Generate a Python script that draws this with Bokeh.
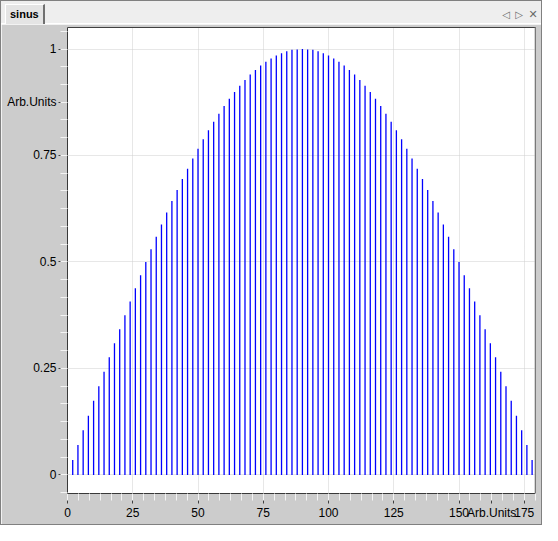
from bokeh.plotting import figure
from bokeh.layouts import column
from bokeh.models import ColumnDataSource, Range1d, FixedTicker, Span, Div
from bokeh.embed import file_html
from bokeh.resources import INLINE

# ---- data ----
xs = [2, 4, 6, 8, 10, 12, 14, 16, 18, 20, 22, 24, 26, 28, 30, 32, 34, 36, 38, 40,
      42, 44, 46, 48, 50, 52, 54, 56, 58, 60, 62, 64, 66, 68, 70, 72, 74, 76, 78, 80,
      82, 84, 86, 88, 90, 92, 94, 96, 98, 100, 102, 104, 106, 108, 110, 112, 114, 116,
      118, 120, 122, 124, 126, 128, 130, 132, 134, 136, 138, 140, 142, 144, 146, 148,
      150, 152, 154, 156, 158, 160, 162, 164, 166, 168, 170, 172, 174, 176, 178]
ys = [0.035, 0.070, 0.105, 0.139, 0.174, 0.208, 0.242, 0.276, 0.309, 0.342,
      0.375, 0.407, 0.438, 0.469, 0.500, 0.530, 0.559, 0.588, 0.616, 0.643,
      0.669, 0.695, 0.719, 0.743, 0.766, 0.788, 0.809, 0.829, 0.848, 0.866,
      0.883, 0.899, 0.914, 0.927, 0.940, 0.951, 0.961, 0.970, 0.978, 0.985,
      0.990, 0.995, 0.998, 0.999, 1.000,
      0.999, 0.998, 0.995, 0.990, 0.985, 0.978, 0.970, 0.961, 0.951, 0.940,
      0.927, 0.914, 0.899, 0.883, 0.866, 0.848, 0.829, 0.809, 0.788, 0.766,
      0.743, 0.719, 0.695, 0.669, 0.643, 0.616, 0.588, 0.559, 0.530, 0.500,
      0.469, 0.438, 0.407, 0.375, 0.342, 0.309, 0.276, 0.242, 0.208, 0.174,
      0.139, 0.105, 0.070, 0.035]

x_major = [0, 25, 50, 75, 100, 125, 150, 175]
y_major = [0, 0.25, 0.5, 0.75, 1]
x_label_pos = 162.5
y_label_pos = 0.875
axis_title = "Arb.Units"
tab_title = "sinus"
tab_icons = ["\u25c1", "\u25b7", "\u2715"]

FONT = "Liberation Sans"
W = 540

# ---- tab bar ----
icon_html = ""
for cx, ic, fs in zip([505, 518, 532], tab_icons, [10, 10, 11]):
    icon_html += (f'<div style="position:absolute;left:{cx - 6}px;top:8px;width:12px;height:12px;'
                  f'line-height:12px;text-align:center;font-family:\'DejaVu Sans\';'
                  f'font-size:{fs}px;color:#6a6a6a;">{ic}</div>')
tab_html = (
    f'<div style="position:relative;width:{W}px;height:23px;background:#eeeeee;overflow:hidden;margin:0;">'
    f'<div style="position:absolute;left:0;top:22px;width:{W}px;height:1px;background:#ffffff;"></div>'
    f'<div style="position:absolute;left:4px;top:3px;width:40px;height:20px;box-sizing:border-box;'
    f'background:#e4e4e4;border-left:1px solid #ffffff;border-top:1px solid #ffffff;'
    f'border-right:2px solid #707070;padding-left:4px;font-family:\'{FONT}\';font-weight:bold;'
    f'font-size:11px;line-height:19px;color:black;">{tab_title}</div>'
    + icon_html +
    '</div>'
)
tab = Div(text=tab_html, width=W, height=23, margin=(0, 0, 0, 0))

# ---- main plot ----
p = figure(width=W, height=500,
           x_range=Range1d(0, 179.3), y_range=Range1d(-0.0437, 1.0505),
           output_backend="svg", toolbar_location=None,
           min_border_left=66, min_border_right=6,
           min_border_top=3, min_border_bottom=31)
p.background_fill_color = "white"
p.border_fill_color = "#cccccc"
p.outline_line_color = "#404040"

src = ColumnDataSource(dict(x=xs, y=ys))
p.segment(x0="x", y0=0, x1="x", y1="y", source=src, line_color="#0000ff", line_width=1.3)

x_minor = [k * 25 / 6 for k in range(0, 44)]
y_minor = [k / 24 for k in range(-1, 26)]
p.xaxis.ticker = FixedTicker(ticks=x_major + [x_label_pos], minor_ticks=x_minor)
p.yaxis.ticker = FixedTicker(ticks=y_major + [y_label_pos], minor_ticks=y_minor)
p.xaxis.major_label_overrides = {0: "0", 25: "25", 50: "50", 75: "75", 100: "100",
                                 125: "125", 150: "150", 175: "175", x_label_pos: axis_title}
p.yaxis.major_label_overrides = {0: "0", 0.25: "0.25", 0.5: "0.5", 0.75: "0.75", 1: "1",
                                 y_label_pos: axis_title}

for ax in (p.xaxis[0], p.yaxis[0]):
    ax.axis_line_color = "#333333"
    ax.axis_line_dash = "1 1"
    ax.major_tick_line_color = "#404040"
    ax.minor_tick_line_color = "#f4f4f4"
    ax.major_tick_in = 0
    ax.minor_tick_in = 0
    ax.major_label_text_font = FONT
    ax.major_label_text_font_size = "12px"
    ax.major_label_text_color = "black"
p.yaxis.major_tick_out = 9
p.yaxis.minor_tick_out = 7
p.yaxis.major_label_standoff = 2
p.xaxis.major_tick_out = 10
p.xaxis.minor_tick_out = 7
p.xaxis.major_label_standoff = 2

p.xgrid.ticker = FixedTicker(ticks=x_major)
p.ygrid.ticker = FixedTicker(ticks=y_major)
for g in (p.xgrid[0], p.ygrid[0]):
    g.grid_line_color = "#cfcfcf"
    g.grid_line_dash = "1 1"

p.add_layout(Span(location=179.3, dimension="height", line_color="#b0b0b0", line_width=2))

page = column(tab, p, spacing=0, styles={"border": "1px solid #808080"})

open("out.html", "w").write(file_html(page, INLINE))
